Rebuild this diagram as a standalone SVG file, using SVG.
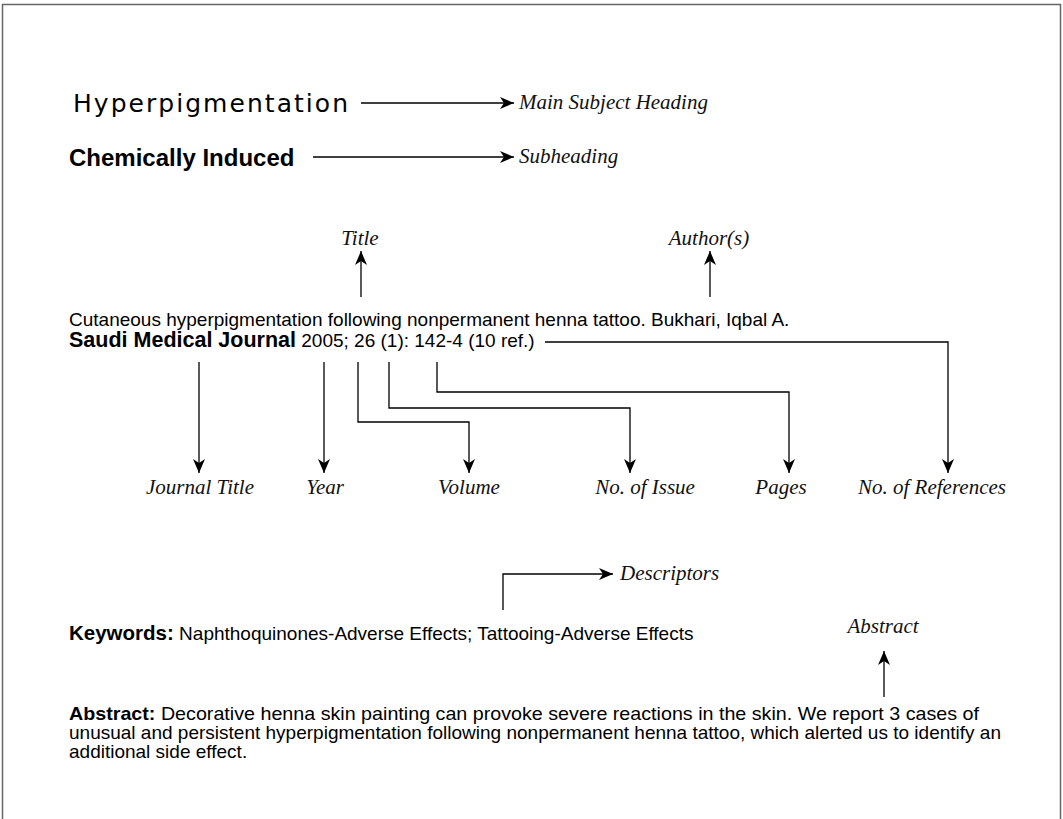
<svg xmlns="http://www.w3.org/2000/svg" width="1063" height="819" viewBox="0 0 1063 819">
<style>
.lbl{font-family:"Liberation Serif",serif;font-style:italic;font-size:21px;fill:#111}
.body{font-family:"Liberation Sans",Arial,sans-serif;font-size:19px;fill:#000}
.b{font-weight:bold}
.con{fill:none;stroke:#000;stroke-width:1.3}
</style>
<defs>
<marker id="ah" markerUnits="userSpaceOnUse" markerWidth="15" markerHeight="13" refX="14" refY="6.5" orient="auto">
<path d="M0,0.5 L14,6.5 L0,12.5 L4,6.5 z" fill="#000"/>
</marker>
</defs>
<rect width="1063" height="819" fill="#fff"/>
<path d="M2.5,819 V4.5 H1060.5 V819" fill="none" stroke="#666" stroke-width="1.5"/>
<g id="connectors">
<path class="con" marker-end="url(#ah)" d="M361,103 H514"/>
<path class="con" marker-end="url(#ah)" d="M313,157 H514"/>
<path class="con" marker-end="url(#ah)" d="M361,297 V251"/>
<path class="con" marker-end="url(#ah)" d="M710,297 V251"/>
<path class="con" marker-end="url(#ah)" d="M545,342 H948 V473"/>
<path class="con" marker-end="url(#ah)" d="M199,362 V473"/>
<path class="con" marker-end="url(#ah)" d="M324,362 V473"/>
<path class="con" marker-end="url(#ah)" d="M358,362 V422 H469 V473"/>
<path class="con" marker-end="url(#ah)" d="M389,362 V408 H630 V473"/>
<path class="con" marker-end="url(#ah)" d="M437,362 V392 H789 V473"/>
<path class="con" marker-end="url(#ah)" d="M503,610 V574 H613"/>
<path class="con" marker-end="url(#ah)" d="M884,697 V651"/>
</g>
<g id="heading">
<text x="73" y="112" font-family="DejaVu Sans,sans-serif" font-size="25" textLength="275" lengthAdjust="spacing">Hyperpigmentation</text>
</g>
<g id="main-subject-heading"><text class="lbl" x="519" y="109">Main Subject Heading</text></g>
<g id="subheading-text"><text x="69" y="166" font-family="Liberation Sans,Arial,sans-serif" font-weight="bold" font-size="24">Chemically Induced</text></g>
<g id="subheading"><text class="lbl" x="519" y="163">Subheading</text></g>
<g id="title"><text class="lbl" x="360" y="245" text-anchor="middle">Title</text></g>
<g id="authors"><text class="lbl" x="709" y="245" text-anchor="middle">Author(s)</text></g>
<g id="citation">
<text class="body" x="69" y="326">Cutaneous hyperpigmentation following nonpermanent henna tattoo. Bukhari, Iqbal A.</text>
<text class="body" x="69" y="347"><tspan class="b" font-size="21.5">Saudi Medical Journal</tspan> 2005; 26 (1): 142-4 (10 ref.)</text>
</g>
<g id="journal-title"><text class="lbl" x="200" y="494" text-anchor="middle">Journal Title</text></g>
<g id="year"><text class="lbl" x="325" y="494" text-anchor="middle">Year</text></g>
<g id="volume"><text class="lbl" x="469" y="494" text-anchor="middle">Volume</text></g>
<g id="issue"><text class="lbl" x="645" y="494" text-anchor="middle">No. of Issue</text></g>
<g id="pages"><text class="lbl" x="781" y="494" text-anchor="middle">Pages</text></g>
<g id="references"><text class="lbl" x="932" y="494" text-anchor="middle">No. of References</text></g>
<g id="descriptors"><text class="lbl" x="620" y="580">Descriptors</text></g>
<g id="keywords"><text class="body" x="69" y="640"><tspan class="b" font-size="20.5">Keywords:</tspan> Naphthoquinones-Adverse Effects; Tattooing-Adverse Effects</text></g>
<g id="abstract-label"><text class="lbl" x="883" y="633" text-anchor="middle">Abstract</text></g>
<g id="abstract">
<text class="body" x="69" y="720" textLength="910" lengthAdjust="spacingAndGlyphs"><tspan class="b">Abstract:</tspan> Decorative henna skin painting can provoke severe reactions in the skin. We report 3 cases of</text>
<text class="body" x="69" y="739" textLength="932" lengthAdjust="spacingAndGlyphs">unusual and persistent hyperpigmentation following nonpermanent henna tattoo, which alerted us to identify an</text>
<text class="body" x="69" y="758">additional side effect.</text>
</g>
</svg>
